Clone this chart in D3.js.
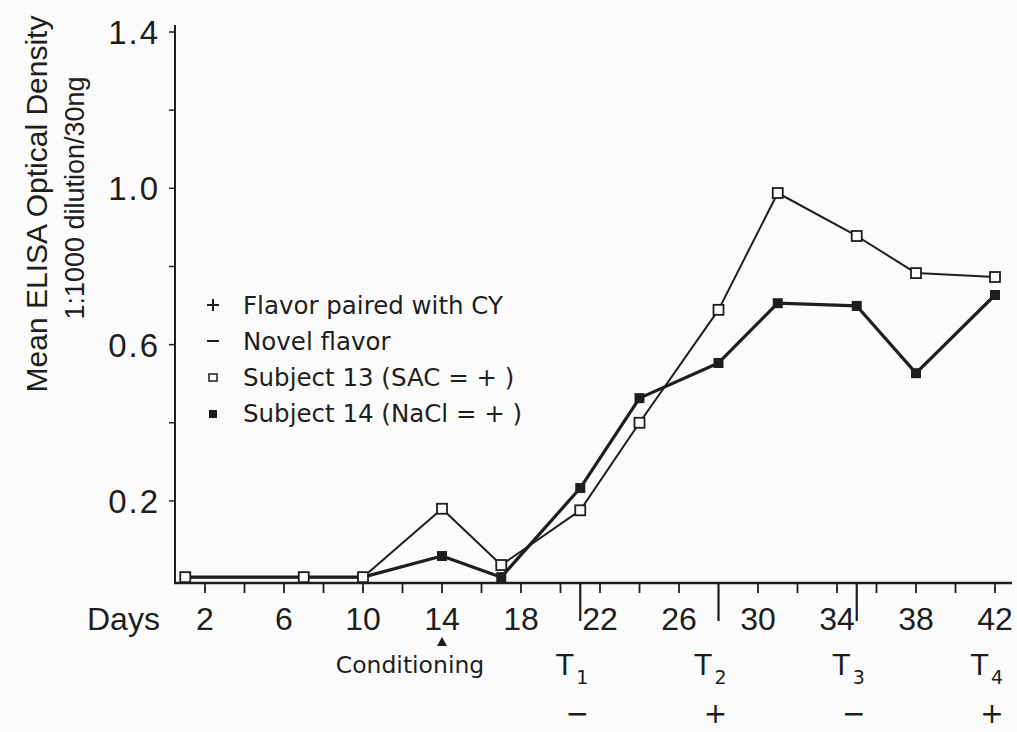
<!DOCTYPE html>
<html>
<head>
<meta charset="utf-8">
<script src="https://d3js.org/d3.v7.min.js"></script>
<style>
  html, body { margin: 0; padding: 0; background: #fbfbfb; }
  svg { display: block; }
  text { fill: #1e1e1e; }
</style>
</head>
<body>
<svg id="chart" width="1017" height="732"></svg>
<script>
// ---- data ----
const days13 = [1, 7, 10, 14, 17, 21, 24, 28, 31, 35, 38, 42];
const subject13 = [0.005, 0.005, 0.005, 0.18, 0.036, 0.176, 0.40, 0.689, 0.988, 0.878, 0.783, 0.773];
const days14 = [1, 7, 10, 14, 17, 21, 24, 28, 31, 35, 38, 42];
const subject14 = [0.005, 0.005, 0.005, 0.059, 0.005, 0.233, 0.463, 0.553, 0.706, 0.699, 0.527, 0.727];
const yTicks = [0.2, 0.4, 0.6, 0.8, 1.0, 1.2, 1.4];
const yTickLabels = ["0.2", "", "0.6", "", "1.0", "", "1.4"];
const xTicks = [2, 4, 6, 8, 10, 12, 14, 16, 18, 20, 22, 24, 26, 30, 32, 34, 36, 38, 40, 42];
const xTickLabels = [2, 6, 10, 14, 18, 22, 26, 30, 34, 38, 42];
const testDays = [21, 28, 35, 42];
const testNames = ["1", "2", "3", "4"];
const testSigns = ["\u2212", "+", "\u2212", "+"];
const bigTickDays = [21, 28, 35];
const conditioningDay = 14;
const legendItems = [
  {sym: "plus", label: "Flavor paired with CY"},
  {sym: "minus", label: "Novel flavor"},
  {sym: "open", label: "Subject 13 (SAC = + )"},
  {sym: "filled", label: "Subject 14 (NaCl = + )"}
];

// ---- layout ----
const svg = d3.select("#chart");
const ink = "#1e1e1e";
const x = d3.scaleLinear().domain([0, 42]).range([165.5, 995]);
const y = d3.scaleLinear().domain([-0.01, 1.4]).range([583, 32]);
const axisX0 = 175, axisX1 = 1012, axisY0 = 583, axisYTop = 25;

// axes lines
svg.append("line").attr("x1", axisX0).attr("x2", axisX0).attr("y1", axisYTop).attr("y2", axisY0)
  .attr("stroke", ink).attr("stroke-width", 2);
svg.append("line").attr("x1", axisX0 - 1).attr("x2", axisX1).attr("y1", axisY0).attr("y2", axisY0)
  .attr("stroke", ink).attr("stroke-width", 2.5);

// y ticks
const yg = svg.append("g");
yg.selectAll("line").data(yTicks).join("line")
  .attr("x1", axisX0 - 6).attr("x2", axisX0).attr("y1", d => y(d)).attr("y2", d => y(d))
  .attr("stroke", ink).attr("stroke-width", 1.5);
yg.selectAll("text").data(yTicks).join("text")
  .attr("x", 160).attr("y", d => y(d)).attr("dy", "0.36em")
  .attr("text-anchor", "end")
  .style("font-family", "'Liberation Sans', Arial, sans-serif").style("font-size", "33px")
  .style("letter-spacing", "2px")
  .text((d, i) => yTickLabels[i]);

// y titles
svg.append("text").attr("transform", "translate(47,204) rotate(-90)")
  .attr("text-anchor", "middle")
  .style("font-family", "'Liberation Sans', Arial, sans-serif").style("font-size", "30px")
  .text("Mean ELISA Optical Density");
svg.append("text").attr("transform", "translate(84,198) rotate(-90)")
  .attr("text-anchor", "middle")
  .style("font-family", "'Liberation Sans', Arial, sans-serif").style("font-size", "27px")
  .text("1:1000 dilution/30ng");

// x ticks
const xg = svg.append("g");
xg.selectAll("line.minor").data(xTicks).join("line").attr("class", "minor")
  .attr("x1", d => x(d)).attr("x2", d => x(d)).attr("y1", axisY0).attr("y2", axisY0 + 10)
  .attr("stroke", ink).attr("stroke-width", 1.8);
xg.selectAll("line.major").data(bigTickDays).join("line").attr("class", "major")
  .attr("x1", d => x(d)).attr("x2", d => x(d)).attr("y1", axisY0).attr("y2", axisY0 + 38)
  .attr("stroke", ink).attr("stroke-width", 2.2);
xg.selectAll("text").data(xTickLabels).join("text")
  .attr("x", d => x(d)).attr("y", 630).attr("text-anchor", "middle")
  .style("font-family", "'Liberation Sans', Arial, sans-serif").style("font-size", "32px")
  .text(d => d);
svg.append("text").attr("x", 87).attr("y", 630)
  .style("font-family", "'Liberation Sans', Arial, sans-serif").style("font-size", "32px")
  .text("Days");

// conditioning marker
const cx = x(conditioningDay);
svg.append("path").attr("d", `M${cx - 5},646 L${cx + 5},646 L${cx},637 Z`).attr("fill", ink);
svg.append("text").attr("x", 410).attr("y", 673).attr("text-anchor", "middle")
  .style("font-family", "'DejaVu Sans', sans-serif").style("font-size", "23.5px")
  .text("Conditioning");

// test labels
const tg = svg.append("g");
testDays.forEach((d, i) => {
  const tx = x(d) - 8;
  const t = tg.append("text").attr("x", tx).attr("y", 675).attr("text-anchor", "middle")
    .style("font-family", "'DejaVu Sans', sans-serif").style("font-size", "28px");
  t.append("tspan").text("T");
  t.append("tspan").attr("dx", 3).attr("dy", 9).style("font-size", "19px").text(testNames[i]);
  tg.append("text").attr("x", x(d) - 3).attr("y", 723).attr("text-anchor", "middle")
    .style("font-family", "'DejaVu Sans', sans-serif").style("font-size", "28px")
    .text(testSigns[i]);
});

// lines
const line = d3.line().x(d => x(d[0])).y(d => y(d[1]));
const pts13 = days13.map((d, i) => [d, subject13[i]]);
const pts14 = days14.map((d, i) => [d, subject14[i]]);
svg.append("path").datum(pts14).attr("d", line).attr("fill", "none")
  .attr("stroke", ink).attr("stroke-width", 3.2).attr("stroke-linejoin", "round");
svg.append("path").datum(pts13).attr("d", line).attr("fill", "none")
  .attr("stroke", ink).attr("stroke-width", 2).attr("stroke-linejoin", "round");

// markers
const ms = 10;
svg.append("g").selectAll("rect").data(pts14.slice(3)).join("rect")
  .attr("x", d => x(d[0]) - ms / 2).attr("y", d => y(d[1]) - ms / 2)
  .attr("width", ms).attr("height", ms).attr("fill", ink);
svg.append("g").selectAll("rect").data(pts13).join("rect")
  .attr("x", d => x(d[0]) - ms / 2).attr("y", d => y(d[1]) - ms / 2)
  .attr("width", ms).attr("height", ms).attr("fill", "#fbfbfb")
  .attr("stroke", ink).attr("stroke-width", 1.8);

// legend
const lg = svg.append("g");
legendItems.forEach((it, i) => {
  const ly = 305 + i * 36;
  const sx = 213;
  if (it.sym === "plus") {
    lg.append("path").attr("d", `M${sx - 6},${ly} H${sx + 6} M${sx},${ly - 6} V${ly + 6}`)
      .attr("stroke", ink).attr("stroke-width", 2);
  } else if (it.sym === "minus") {
    lg.append("path").attr("d", `M${sx - 6},${ly} H${sx + 6}`).attr("stroke", ink).attr("stroke-width", 2);
  } else if (it.sym === "open") {
    lg.append("rect").attr("x", sx - 4).attr("y", ly - 3).attr("width", 8).attr("height", 7)
      .attr("fill", "none").attr("stroke", ink).attr("stroke-width", 1.5);
  } else {
    lg.append("rect").attr("x", sx - 4).attr("y", ly - 3).attr("width", 8).attr("height", 8).attr("fill", ink);
  }
  lg.append("text").attr("x", 243).attr("y", ly).attr("dy", "0.36em")
    .style("font-family", "'DejaVu Sans', sans-serif").style("font-size", "24.5px")
    .text(it.label);
});
</script>
</body>
</html>
